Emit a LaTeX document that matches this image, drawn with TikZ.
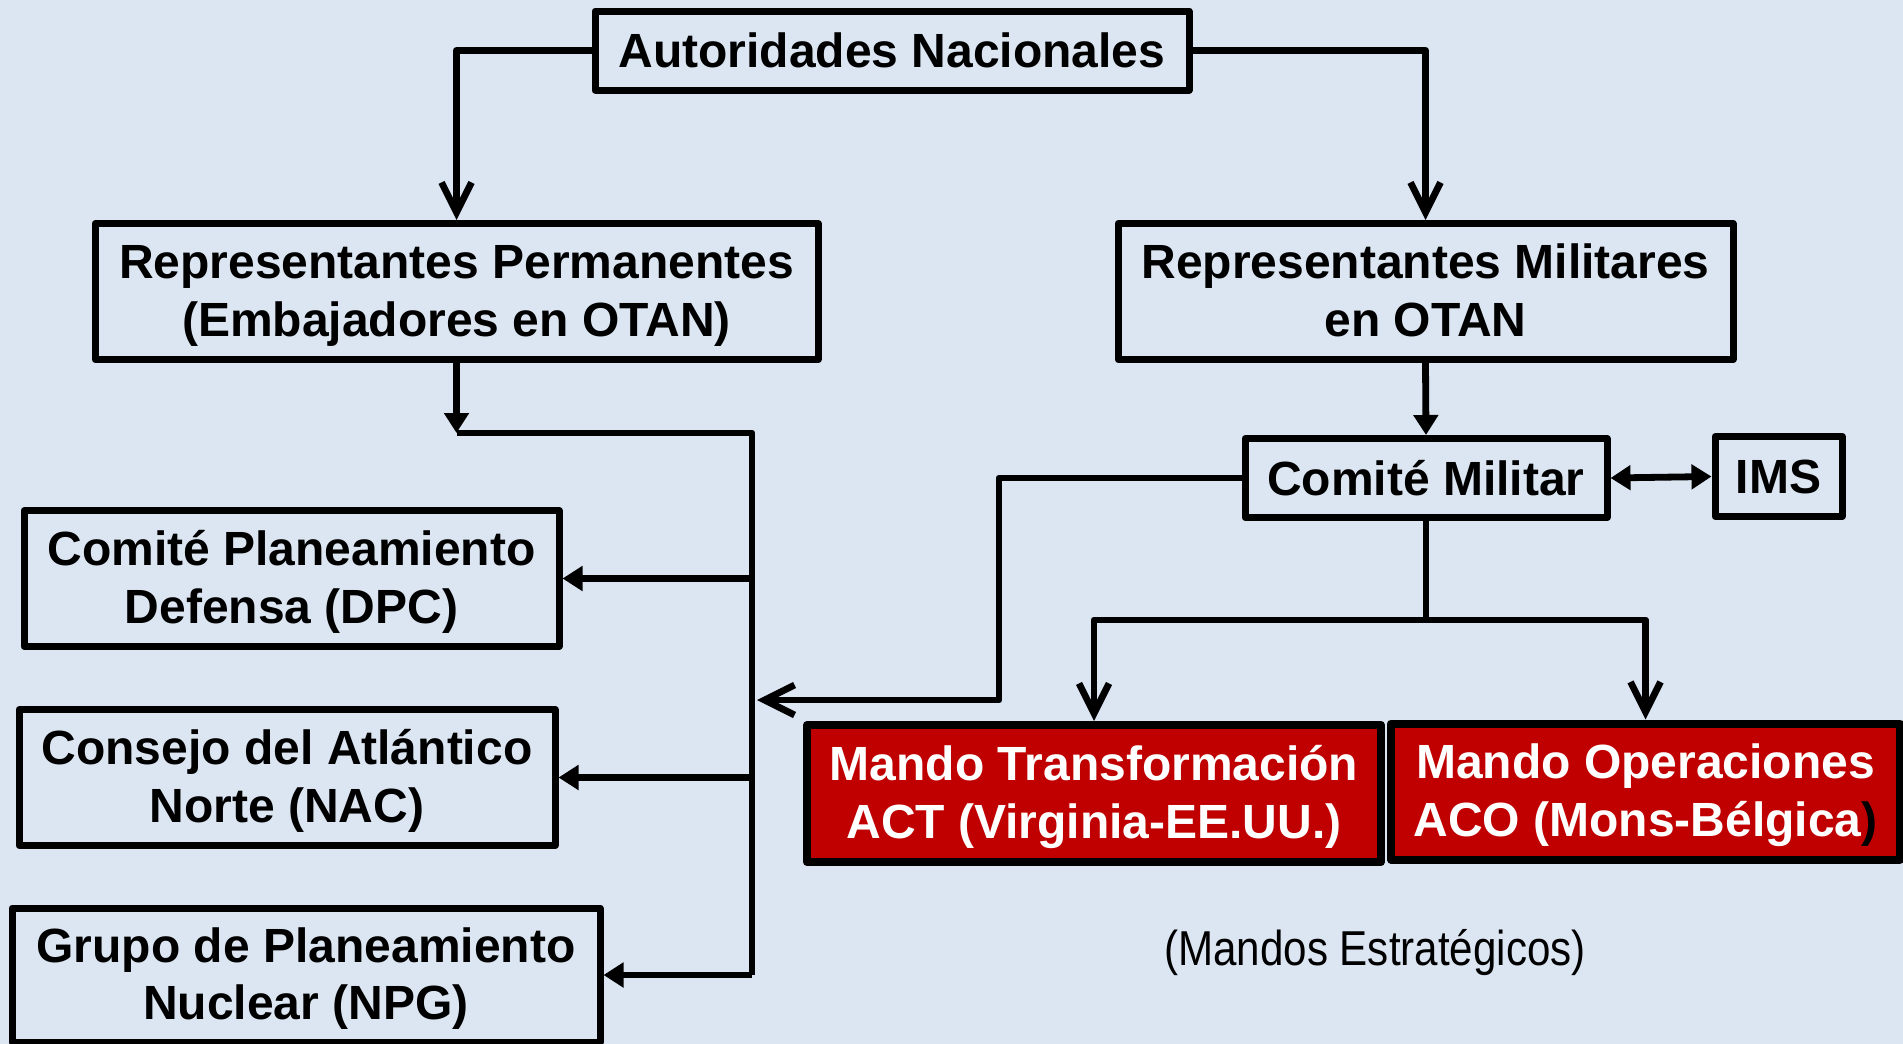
\documentclass[tikz,border=0pt]{standalone}
\usepackage{fontspec}
\setmainfont{Liberation Sans}
\newfontfamily\narrowreg{Liberation Sans}[FakeStretch=0.86]
\usetikzlibrary{arrows.meta}
\definecolor{bg}{RGB}{220,230,242}
\definecolor{mred}{RGB}{192,0,0}
\newcommand{\twoln}[2]{\raisebox{6.3pt}[0pt][0pt]{\begin{tabular}[t]{@{}c@{}}#1\\#2\end{tabular}}}
\begin{document}
\begin{tikzpicture}[x=0.5pt,y=-0.5pt,
  box/.style={draw=black, line width=3.5pt, inner sep=0pt, align=center,
    font=\bfseries\fontsize{24}{28.6}\selectfont, line join=round},
  one/.style={text height=17.2pt, text depth=0pt},
  redbox/.style={box, fill=mred, text=white, line width=4pt},
  conn/.style={line width=3.4pt, line join=round},
  fa/.style={-{Triangle[length=10pt,width=12pt]}},
  fafa/.style={{Triangle[length=10pt,width=12pt]}-{Triangle[length=10pt,width=12pt]}},
  oa/.style={-{Straight Barb[length=15pt,width=15pt]}},
]
\fill[bg] (0,0) rectangle (1903,1044);
\useasboundingbox (0,0) rectangle (1903,1044);

\node[box, one, minimum width=297pt, minimum height=39.5pt] (aut) at (892,50.5) {Autoridades Nacionales};
\node[box, minimum width=361.5pt, minimum height=68pt] (rp) at (456.5,291.5) {\twoln{Representantes Permanentes}{(Embajadores en OTAN)}};
\node[box, minimum width=307.5pt, minimum height=68pt] (rm) at (1425.5,291.5) {\twoln{Representantes Militares}{en OTAN}};
\node[box, minimum width=267.5pt, minimum height=68pt] (dpc) at (291.5,578.5) {\twoln{Comité Planeamiento}{Defensa (DPC)}};
\node[box, minimum width=268pt, minimum height=68pt] (nac) at (287,777.5) {\twoln{Consejo del Atlántico}{Norte (NAC)}};
\node[box, minimum width=294pt, minimum height=67pt] (npg) at (306,975) {\twoln{Grupo de Planeamiento}{Nuclear (NPG)}};
\node[box, one, minimum width=181pt, minimum height=39.5pt] (cm) at (1426,478) {Comité Militar};
\node[box, one, minimum width=63.5pt, minimum height=40pt] (ims) at (1778.5,476.5) {IMS};
\node[redbox, minimum width=287pt, minimum height=68.5pt] (act) at (1094,793.5) {\twoln{Mando Transformación}{ACT (Virginia-EE.UU.)}};
\node[redbox, minimum width=254.5pt, minimum height=68pt] (aco) at (1645.5,791.5) {\twoln{Mando Operaciones}{ACO (Mons-Bélgica{\color{black})}}};
\node[font=\narrowreg\fontsize{24.5}{29}\selectfont, inner sep=0pt, text height=17.5pt, text depth=0pt] (ms) at (1375,947.5) {(Mandos Estratégicos)};

\draw[conn,oa] (aut.west) -| (rp.north);
\draw[conn,oa] (aut.east) -| (rm.north);

\coordinate (jl) at (456.5,433);
\coordinate (jt) at (752,433);
\coordinate (jb) at (752,975);
\draw[conn,fa] (rp.south) -- (jl);
\draw[conn] (jl) -- (jt) -- (jb);
\draw[conn,fa] (jt |- dpc.east) -- (dpc.east);
\draw[conn,fa] (jt |- nac.east) -- (nac.east);
\draw[conn,fa] (jb) -- (npg.east);

\coordinate (k) at (999,700);
\coordinate (kt) at (757,700);
\draw[conn,oa] (cm.west) -| (k) -- (kt);

\draw[conn,fa] (rm.south) -- (cm.north);
\draw[conn,fafa] (cm.east) -- (ims.west);

\coordinate (m) at (1426,620);
\draw[conn] (cm.south) -- (m);
\draw[conn,oa] (m) -| (act.north);
\draw[conn,oa] (m) -| (aco.north);
\end{tikzpicture}
\end{document}
